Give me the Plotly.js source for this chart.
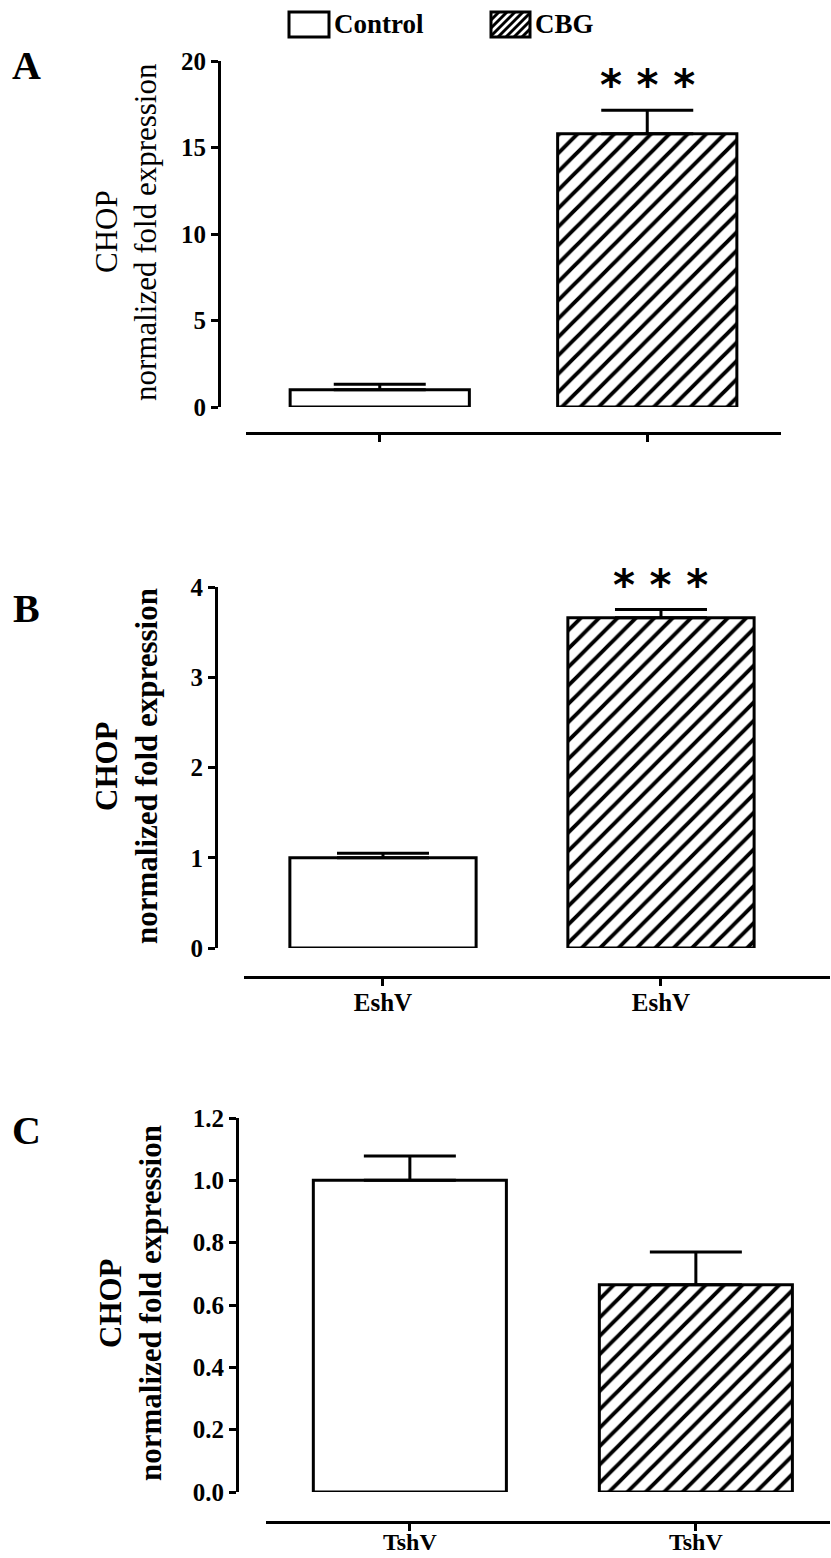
<!DOCTYPE html>
<html>
<head>
<meta charset="utf-8">
<script src="https://cdn.plot.ly/plotly-3.0.1.min.js"></script>
<style>
html,body{margin:0;padding:0;background:#fff;}
#chart{width:831px;height:1558px;}
</style>
</head>
<body>
<div id="chart"></div>
<script>
// ---- data ----
const groups = ['Control', 'CBG'];
const patterns = ['', '/'];
const panelLetters = ['A', 'B', 'C'];
const ticksA = ['', ''];
const ticksB = ['EshV', 'EshV'];
const ticksC = ['TshV', 'TshV'];
const valuesA = [1.0, 15.8];
const errorsA = [0.32, 1.35];
const valuesB = [1.0, 3.66];
const errorsB = [0.05, 0.09];
const valuesC = [1.0, 0.665];
const errorsC = [0.078, 0.105];
const signifA = ['', '* * *'];
const signifB = ['', '* * *'];
const signifC = ['', ''];
const yTitleTop = 'CHOP';
const yTitleBottom = 'normalized fold expression';

// ---- layout helpers ----
const W = 831, H = 1558;
const fx = p => p / W;
const fy = p => 1 - p / H;
const SERIF = 'Liberation Serif, Times New Roman, serif';

const panels = [
  {vals: valuesA, errs: errorsA, sig: signifA, ticks: ticksA, xs: 'x', ys: 'y', xa: 'xaxis', ya: 'yaxis',
   y0: 407, y1: 61, yr: [0, 20], dtick: 5, fmt: '', yaxPos: 219, xd: [246, 781], xr: [-0.5, 1.5], xPos: 433, bw: 0.67,
   letterY: 66, tBold: false, tX: [106, 145], tY: 232, xtSize: 25, xtOff: -5},
  {vals: valuesB, errs: errorsB, sig: signifB, ticks: ticksB, xs: 'x2', ys: 'y2', xa: 'xaxis2', ya: 'yaxis2',
   y0: 948, y1: 587, yr: [0, 4], dtick: 1, fmt: '', yaxPos: 216, xd: [244, 830], xr: [-0.5, 1.608], xPos: 977, bw: 0.67,
   letterY: 608, tBold: true, tX: [106, 146], tY: 766, xtSize: 25, xtOff: -5},
  {vals: valuesC, errs: errorsC, sig: signifC, ticks: ticksC, xs: 'x3', ys: 'y3', xa: 'xaxis3', ya: 'yaxis3',
   y0: 1492, y1: 1118, yr: [0, 1.2], dtick: 0.2, fmt: '.1f', yaxPos: 237, xd: [266, 830], xr: [-0.503, 1.469], xPos: 1522, bw: 0.675,
   letterY: 1130, tBold: true, tX: [110, 150], tY: 1303, xtSize: 24, xtOff: -10}
];

const traces = [];
const annotations = [];
const shapes = [];
const layout = {
  width: W, height: H,
  margin: {l: 0, r: 0, t: 0, b: 0},
  paper_bgcolor: '#fff', plot_bgcolor: '#fff',
  showlegend: false,
  bargap: 0,
  annotations: annotations,
  shapes: shapes
};

panels.forEach((p, pi) => {
  groups.forEach((g, gi) => {
    traces.push({
      type: 'bar', name: g, legendgroup: g, showlegend: false,
      x: [gi], y: [p.vals[gi]], width: [p.bw],
      xaxis: p.xs, yaxis: p.ys,
      marker: {
        color: '#fff',
        line: {color: '#000', width: 3},
        pattern: {shape: patterns[gi], fgcolor: '#000', bgcolor: '#fff', size: 13, solidity: 0.3}
      },
      error_y: {type: 'data', symmetric: false, array: [p.errs[gi]], arrayminus: [0],
                color: '#000', thickness: 3, width: 46},
      hoverinfo: 'skip'
    });
    if (p.sig[gi]) {
      annotations.push({
        xref: p.xs, yref: p.ys, x: gi, y: p.vals[gi] + p.errs[gi],
        text: p.sig[gi], showarrow: false, yanchor: 'bottom', yshift: -2,
        font: {family: 'DejaVu Sans', size: 42, weight: 'bold', color: '#000'}
      });
    }
  });
  layout[p.xa] = {
    type: 'linear', domain: [fx(p.xd[0]), fx(p.xd[1])], range: p.xr,
    anchor: 'free', position: fy(p.xPos),
    tickmode: 'array', tickvals: [0, 1], ticktext: p.ticks,
    showline: true, linecolor: '#000', linewidth: 3,
    ticks: 'outside', ticklen: 7, tickwidth: 3, tickcolor: '#000',
    ticklabelstandoff: p.xtOff,
    showgrid: false, zeroline: false, fixedrange: true,
    tickfont: {family: SERIF, size: p.xtSize, weight: 'bold', color: '#000'}
  };
  layout[p.ya] = {
    domain: [fy(p.y0), fy(p.y1)], range: p.yr,
    anchor: 'free', position: fx(p.yaxPos),
    dtick: p.dtick, tick0: 0, tickformat: p.fmt,
    showline: true, linecolor: '#000', linewidth: 3,
    ticks: 'outside', ticklen: 7, tickwidth: 3, tickcolor: '#000',
    showgrid: false, zeroline: false, fixedrange: true,
    tickfont: {family: SERIF, size: 25, weight: 'bold', color: '#000'}
  };
  annotations.push({
    xref: 'paper', yref: 'paper', x: fx(27), y: fy(p.letterY),
    text: panelLetters[pi], showarrow: false, xanchor: 'center', yanchor: 'middle',
    font: {family: SERIF, size: 40, weight: 'bold', color: '#000'}
  });
  [yTitleTop, yTitleBottom].forEach((t, ti) => {
    annotations.push({
      xref: 'paper', yref: 'paper', x: fx(p.tX[ti]), y: fy(p.tY),
      text: t, showarrow: false, textangle: -90, xanchor: 'center', yanchor: 'middle',
      font: {family: SERIF, size: 31, weight: p.tBold ? 'bold' : 'normal', color: '#000'}
    });
  });
});

// ---- custom legend (boxes + labels) ----
const legendBoxes = [[289, 329], [491, 530]];
const legTop = 12, legBot = 37;
groups.forEach((g, gi) => {
  const [x0, x1] = legendBoxes[gi];
  if (patterns[gi] === '/') {
    const w = x1 - x0, h = legBot - legTop, step = 8;
    let path = '';
    for (let t = -h; t < w; t += step) {
      const u0 = Math.max(0, -t), u1 = Math.min(h, w - t);
      if (u1 <= u0) continue;
      path += 'M' + fx(x0 + t + u0) + ',' + fy(legBot - u0) + 'L' + fx(x0 + t + u1) + ',' + fy(legBot - u1);
    }
    shapes.push({type: 'path', xref: 'paper', yref: 'paper', path: path, line: {color: '#000', width: 3}});
  }
  shapes.push({type: 'rect', xref: 'paper', yref: 'paper', x0: fx(x0), x1: fx(x1), y0: fy(legBot), y1: fy(legTop),
               line: {color: '#000', width: 3}, fillcolor: 'rgba(0,0,0,0)'});
  annotations.push({
    xref: 'paper', yref: 'paper', x: fx(x1 + 3), y: fy((legTop + legBot) / 2),
    text: g, showarrow: false, xanchor: 'left', yanchor: 'middle',
    font: {family: SERIF, size: 27, weight: 'bold', color: '#000'}
  });
});

Plotly.newPlot('chart', traces, layout, {staticPlot: true, displayModeBar: false});
</script>
</body>
</html>
